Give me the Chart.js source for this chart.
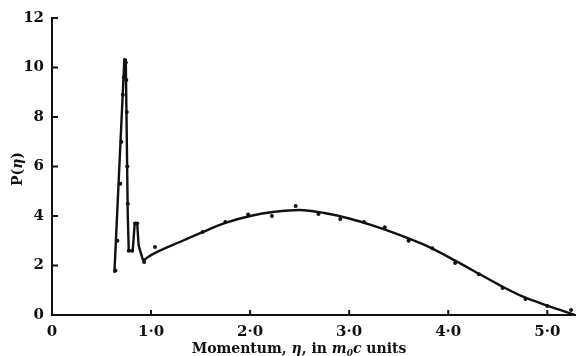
<!DOCTYPE html>
<html>
<head>
<meta charset="utf-8">
<script src="https://cdn.jsdelivr.net/npm/chart.js@4/dist/chart.umd.min.js"></script>
<style>
  html, body { margin: 0; padding: 0; background: #fff; }
  #wrap { width: 579px; height: 356px; }
</style>
</head>
<body>
<div id="wrap"><canvas id="chart" width="579" height="356"></canvas></div>
<script>
// sharp peaks at low momentum, drawn with straight segments
var peakX = [0.63, 0.73, 0.745, 0.765, 0.775, 0.815, 0.835, 0.86, 0.875, 0.92];
var peakY = [1.7, 10.3, 10.3, 4.0, 2.6, 2.6, 3.7, 3.7, 2.8, 2.2];

// broad smooth curve
var curveX = [0.92, 1.0, 1.29, 1.52, 1.75, 2.0, 2.25, 2.5, 2.75, 3.0, 3.25, 3.5, 3.75, 4.0, 4.25, 4.5, 4.75, 5.0, 5.28];
var curveY = [2.2, 2.42, 2.95, 3.35, 3.72, 4.0, 4.17, 4.24, 4.12, 3.9, 3.6, 3.25, 2.85, 2.35, 1.8, 1.25, 0.75, 0.38, 0.0];

// measured points
var dotX = [0.64, 0.66, 0.69, 0.70, 0.715, 0.725, 0.735, 0.745, 0.75, 0.755, 0.76, 0.765, 0.775, 0.81, 0.84, 0.86,
            0.93, 1.04, 1.52, 1.75, 1.98, 2.22, 2.46, 2.69, 2.91, 3.15, 3.36, 3.6, 3.84, 4.07, 4.31, 4.55, 4.78, 5.0, 5.24];
var dotY = [1.8, 3.0, 5.3, 7.0, 8.9, 9.6, 10.3, 10.2, 9.5, 8.2, 6.0, 4.5, 2.6, 2.6, 3.7, 3.7,
            2.14, 2.75, 3.35, 3.76, 4.06, 4.0, 4.4, 4.08, 3.88, 3.76, 3.55, 3.0, 2.7, 2.1, 1.65, 1.09, 0.65, 0.36, 0.2];

var xTicks = [0, 1, 2, 3, 4, 5];
var yTicks = [0, 2, 4, 6, 8, 10, 12];

var serif = '"DejaVu Serif", "Liberation Serif", serif';

function pts(xs, ys) {
  return xs.map(function (x, i) { return { x: x, y: ys[i] }; });
}

// inward tick marks + mixed-font axis titles
var decor = {
  id: 'decor',
  afterDraw: function (chart) {
    var ctx = chart.ctx, xs = chart.scales.x, ys = chart.scales.y;
    var a = chart.chartArea;
    ctx.save();
    ctx.strokeStyle = '#111';
    ctx.lineWidth = 2;
    xTicks.forEach(function (v) {
      if (v === 0) return;
      var p = xs.getPixelForValue(v);
      ctx.beginPath(); ctx.moveTo(p, a.bottom); ctx.lineTo(p, a.bottom - 5); ctx.stroke();
    });
    yTicks.forEach(function (v) {
      var p = ys.getPixelForValue(v);
      ctx.beginPath(); ctx.moveTo(a.left, p); ctx.lineTo(a.left + 6, p); ctx.stroke();
    });

    // x title
    var parts = [
      ['Momentum, ', 'bold 14px ' + serif],
      ['η', 'italic bold 14px ' + serif],
      [', in ', 'bold 14px ' + serif],
      ['m', 'italic bold 14px ' + serif],
      ['0', 'italic bold 9px ' + serif, 3],
      ['c', 'italic bold 14px ' + serif],
      [' units', 'bold 14px ' + serif]
    ];
    ctx.fillStyle = '#111';
    ctx.textBaseline = 'alphabetic';
    var total = 0;
    parts.forEach(function (p) { ctx.font = p[1]; total += ctx.measureText(p[0]).width; });
    var x = 299 - total / 2;
    parts.forEach(function (p) {
      ctx.font = p[1];
      ctx.fillText(p[0], x, 353 + (p[2] || 0));
      x += ctx.measureText(p[0]).width;
    });

    // y title
    ctx.translate(22, 169);
    ctx.rotate(-Math.PI / 2);
    var yparts = [['P(', 'bold 14px ' + serif], ['η', 'italic bold 14px ' + serif], [')', 'bold 14px ' + serif]];
    total = 0;
    yparts.forEach(function (p) { ctx.font = p[1]; total += ctx.measureText(p[0]).width; });
    x = -total / 2;
    yparts.forEach(function (p) {
      ctx.font = p[1];
      ctx.fillText(p[0], x, 0);
      x += ctx.measureText(p[0]).width;
    });
    ctx.restore();
  }
};

new Chart(document.getElementById('chart'), {
  type: 'scatter',
  data: {
    datasets: [
      {
        label: 'peaks',
        data: pts(peakX, peakY),
        showLine: true,
        borderColor: '#111',
        borderWidth: 2.4,
        pointRadius: 0,
        tension: 0
      },
      {
        label: 'curve',
        data: pts(curveX, curveY),
        showLine: true,
        borderColor: '#111',
        borderWidth: 2.4,
        pointRadius: 0,
        cubicInterpolationMode: 'monotone'
      },
      {
        label: 'measured',
        data: pts(dotX, dotY),
        showLine: false,
        backgroundColor: '#111',
        borderColor: '#111',
        pointRadius: 2,
        borderWidth: 0
      }
    ]
  },
  options: {
    responsive: false,
    animation: false,
    layout: { padding: { top: 18, right: 1, left: 0, bottom: 0 } },
    plugins: { legend: { display: false }, tooltip: { enabled: false } },
    scales: {
      x: {
        type: 'linear',
        min: 0,
        max: 5.28,
        afterFit: function (s) { s.height = 41; },
        afterBuildTicks: function (s) { s.ticks = xTicks.map(function (v) { return { value: v }; }); },
        grid: { display: false, drawTicks: false },
        border: { display: true, color: '#111', width: 2 },
        ticks: {
          color: '#111',
          padding: 8,
          maxRotation: 0,
          font: { family: serif, size: 15, weight: 'bold' },
          callback: function (v) { return v === 0 ? '0' : v.toFixed(1).replace('.', '·'); }
        }
      },
      y: {
        min: 0,
        max: 12,
        afterFit: function (s) { s.width = 52; },
        afterBuildTicks: function (s) { s.ticks = yTicks.map(function (v) { return { value: v }; }); },
        grid: { display: false, drawTicks: false },
        border: { display: true, color: '#111', width: 2 },
        ticks: {
          color: '#111',
          padding: 8,
          font: { family: serif, size: 15, weight: 'bold' },
          callback: function (v) { return String(v); }
        }
      }
    }
  },
  plugins: [decor]
});
</script>
</body>
</html>
